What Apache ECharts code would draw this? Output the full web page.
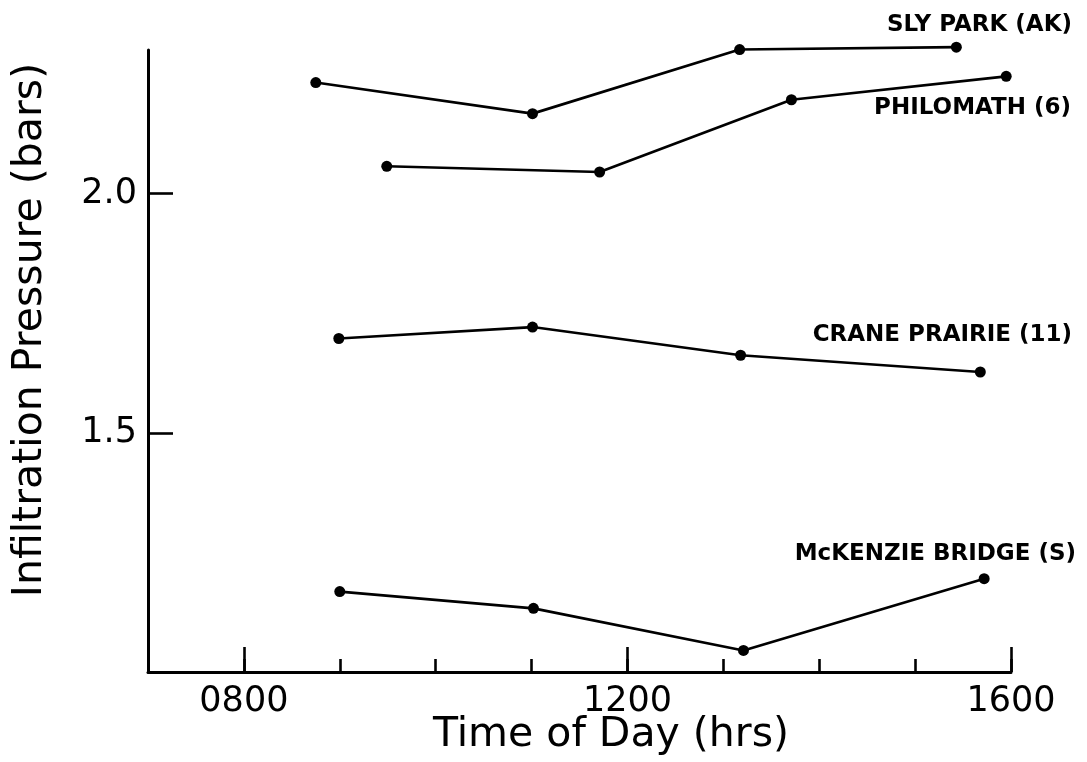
<!DOCTYPE html>
<html>
<head>
<meta charset="utf-8">
<script src="https://cdn.jsdelivr.net/npm/echarts@6/dist/echarts.min.js"></script>
<style>
  html, body { margin: 0; padding: 0; background: #ffffff; }
  #chart { width: 1087px; height: 762px; }
</style>
</head>
<body>
<div id="chart"></div>
<script>
// Time of day in decimal hours, infiltration pressure in bars
const slyParkTime = [8.75, 11.01, 13.17, 15.43];
const slyParkBars = [2.232, 2.167, 2.301, 2.306];
const philomathTime = [9.49, 11.71, 13.71, 15.95];
const philomathBars = [2.057, 2.045, 2.196, 2.245];
const cranePrairieTime = [8.99, 11.01, 13.18, 15.68];
const cranePrairieBars = [1.697, 1.721, 1.662, 1.627];
const mcKenzieTime = [9.00, 11.02, 13.21, 15.72];
const mcKenzieBars = [1.168, 1.133, 1.045, 1.195];

const siteNames = ['SLY PARK (AK)', 'PHILOMATH (6)', 'CRANE PRAIRIE (11)', 'McKENZIE BRIDGE (S)'];
const hourTicks = [8, 12, 16];
const pressureTicks = [1.5, 2.0];

const INK = '#000000';
const FONT = 'DejaVu Sans';

function pairs(xs, ys) {
  return xs.map((x, i) => [x, ys[i]]);
}

const siteData = [
  pairs(slyParkTime, slyParkBars),
  pairs(philomathTime, philomathBars),
  pairs(cranePrairieTime, cranePrairieBars),
  pairs(mcKenzieTime, mcKenzieBars)
];

const chart = echarts.init(document.getElementById('chart'), null, { renderer: 'canvas' });

const siteLabelFont = 'bold 23px "DejaVu Sans"';
const titleFont = '41px "DejaVu Sans"';

const option = {
  backgroundColor: '#ffffff',
  animation: false,
  grid: { left: 148, top: 50, width: 863, height: 622, containLabel: false },
  xAxis: [
    {
      // hourly minor ticks
      type: 'value', min: 7, max: 16, interval: 1, position: 'bottom',
      axisLine: { show: true, onZero: false, lineStyle: { color: INK, width: 3 } },
      axisTick: { show: true, inside: true, length: 13, lineStyle: { color: INK, width: 2.6 } },
      axisLabel: { show: false },
      splitLine: { show: false }
    },
    {
      // labelled 4-hour ticks
      type: 'value', min: 7, max: 16, position: 'bottom',
      axisLine: { show: false, onZero: false },
      axisTick: { show: true, inside: true, length: 25, customValues: hourTicks,
                  lineStyle: { color: INK, width: 2.6 } },
      axisLabel: {
        show: true, customValues: hourTicks, margin: 12,
        color: INK, fontFamily: FONT, fontSize: 35,
        formatter: v => String(Math.round(v * 100)).padStart(4, '0')
      },
      splitLine: { show: false }
    }
  ],
  yAxis: {
    type: 'value', min: 1.0, max: 2.3,
    axisLine: { show: true, onZero: false, lineStyle: { color: INK, width: 3 } },
    axisTick: { show: true, inside: true, length: 25, customValues: pressureTicks,
                lineStyle: { color: INK, width: 2.6 } },
    axisLabel: {
      show: true, customValues: pressureTicks, margin: 11,
      color: INK, fontFamily: FONT, fontSize: 35,
      formatter: v => v.toFixed(1)
    },
    splitLine: { show: false }
  },
  series: siteNames.map((name, i) => ({
    name: name,
    type: 'line',
    xAxisIndex: 0,
    data: siteData[i],
    clip: false,
    symbol: 'circle',
    symbolSize: 11,
    lineStyle: { color: INK, width: 2.7 },
    itemStyle: { color: INK },
    emphasis: { disabled: true }
  })),
  graphic: [
    { type: 'text', x: 1072, y: 25, style: { text: siteNames[0], align: 'right', verticalAlign: 'middle',
      fill: INK, font: siteLabelFont } },
    { type: 'text', x: 1071, y: 108, style: { text: siteNames[1], align: 'right', verticalAlign: 'middle',
      fill: INK, font: siteLabelFont } },
    { type: 'text', x: 1072, y: 335, style: { text: siteNames[2], align: 'right', verticalAlign: 'middle',
      fill: INK, font: siteLabelFont } },
    { type: 'text', x: 1076, y: 554, style: { text: siteNames[3], align: 'right', verticalAlign: 'middle',
      fill: INK, font: siteLabelFont } },
    { type: 'text', x: 611, y: 735, style: { text: 'Time of Day (hrs)', align: 'center', verticalAlign: 'middle',
      fill: INK, font: titleFont } },
    { type: 'text', x: 30, y: 330, rotation: Math.PI / 2,
      style: { text: 'Infiltration Pressure (bars)', align: 'center', verticalAlign: 'middle',
      fill: INK, font: titleFont } }
  ]
};

chart.setOption(option);
</script>
</body>
</html>
